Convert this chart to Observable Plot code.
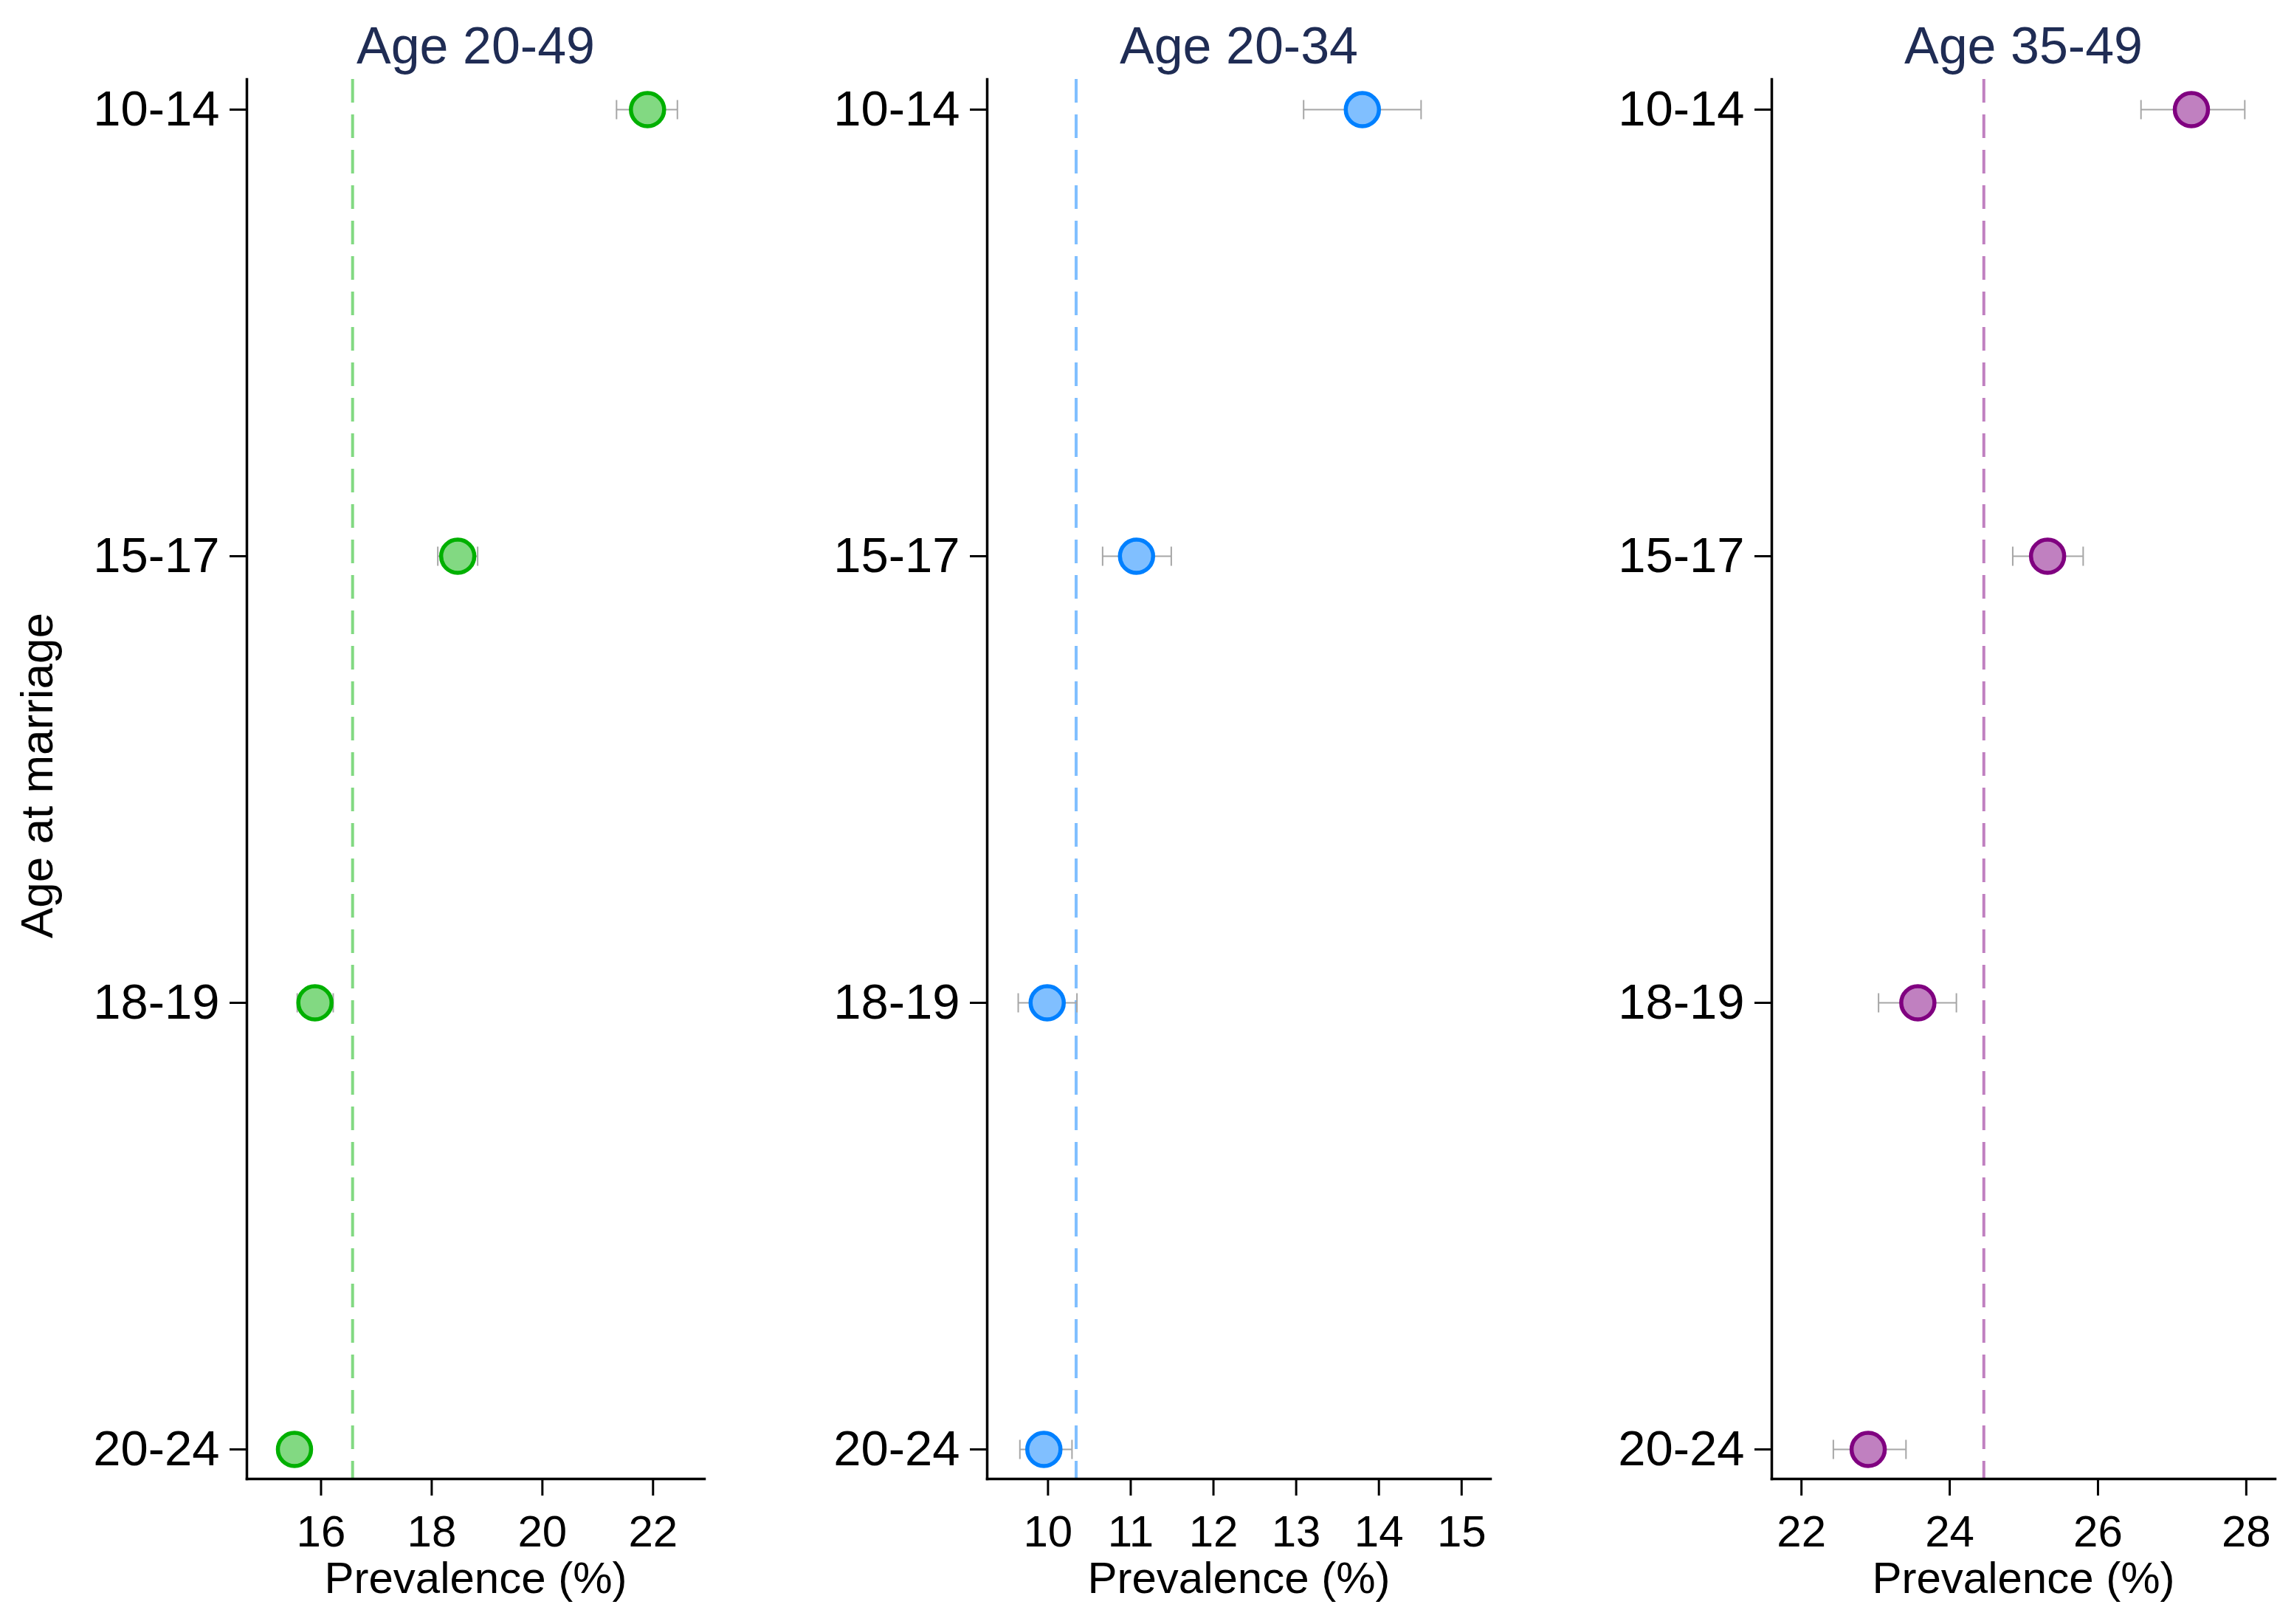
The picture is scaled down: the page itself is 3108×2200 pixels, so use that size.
<!DOCTYPE html>
<html>
<head>
<meta charset="utf-8">
<script src="https://cdn.jsdelivr.net/npm/d3@7"></script>
<script src="https://cdn.jsdelivr.net/npm/@observablehq/plot@0.6"></script>
<style>
  html, body { margin: 0; padding: 0; background: #fff; }
  #wrap { position: relative; width: 3108px; height: 2200px; background: #fff; overflow: hidden; }
  #wrap > svg { position: absolute; top: 0; }
</style>
</head>
<body>
<div id="wrap"></div>
<script>
// Categories (age at marriage)
const categories = ["10-14", "15-17", "18-19", "20-24"];

// Panel titles
const titles = ["Age 20-49", "Age 20-34", "Age 35-49"];

// Age 20-49
const est2049 = [21.90, 18.47, 15.89, 15.52];
const lo2049  = [21.34, 18.11, 15.57, 15.25];
const hi2049  = [22.44, 18.83, 16.22, 15.80];
const ref2049 = 16.57;
const ticks2049 = [16, 18, 20, 22];

// Age 20-34
const est2034 = [13.80, 11.07, 9.99, 9.95];
const lo2034  = [13.09, 10.66, 9.64, 9.66];
const hi2034  = [14.51, 11.49, 10.35, 10.29];
const ref2034 = 10.34;
const ticks2034 = [10, 11, 12, 13, 14, 15];

// Age 35-49
const est3549 = [27.26, 25.32, 23.57, 22.90];
const lo3549  = [26.58, 24.85, 23.04, 22.43];
const hi3549  = [27.98, 25.80, 24.09, 23.41];
const ref3549 = 24.46;
const ticks3549 = [22, 24, 26, 28];

const panels = [
  {title: titles[0], est: est2049, lo: lo2049, hi: hi2049, ref: ref2049, ticks: ticks2049,
   domain: [14.66, 22.93], left: 0, width: 1000, ml: 334, mr: 46,
   stroke: "#00b000", fill: "#82d982", refColor: "#82d982", ylabel: true},
  {title: titles[1], est: est2034, lo: lo2034, hi: hi2034, ref: ref2034, ticks: ticks2034,
   domain: [9.265, 15.35], left: 1000, width: 1050, ml: 337, mr: 31,
   stroke: "#0080ff", fill: "#80bfff", refColor: "#80bfff", ylabel: false},
  {title: titles[2], est: est3549, lo: lo3549, hi: hi3549, ref: ref3549, ticks: ticks3549,
   domain: [21.60, 28.39], left: 2050, width: 1058, ml: 350, mr: 26,
   stroke: "#800080", fill: "#c080c0", refColor: "#c080c0", ylabel: false}
];

// vertical cap symbol for error bars
const capSymbol = {
  draw(context, size) {
    const h = Math.sqrt(size / Math.PI);
    context.moveTo(0, -h);
    context.lineTo(0, h);
  }
};

const wrap = document.getElementById("wrap");
const font = "'Liberation Sans', Arial, Helvetica, sans-serif";

for (const p of panels) {
  const rows = categories.map((c, i) => ({cat: c, est: p.est[i], lo: p.lo[i], hi: p.hi[i]}));
  const marks = [
    Plot.ruleX([p.ref], {stroke: p.refColor, strokeWidth: 4, strokeDasharray: "32,16"}),
    Plot.ruleY(rows, {y: "cat", x1: "lo", x2: "hi", stroke: "#a6a6a6", strokeWidth: 2}),
    Plot.dot(rows, {x: "lo", y: "cat", symbol: capSymbol, r: 13, fill: "none", stroke: "#a6a6a6", strokeWidth: 2}),
    Plot.dot(rows, {x: "hi", y: "cat", symbol: capSymbol, r: 13, fill: "none", stroke: "#a6a6a6", strokeWidth: 2}),
    Plot.dot(rows, {x: "est", y: "cat", r: 22.5, fill: p.fill, stroke: p.stroke, strokeWidth: 5.5}),
    Plot.frame({anchor: "left", stroke: "#000", strokeWidth: 3.5}),
    Plot.frame({anchor: "bottom", stroke: "#000", strokeWidth: 3.5}),
    Plot.axisY({tickSize: 23, tickPadding: 14, fontSize: 67, strokeWidth: 3, label: null}),
    Plot.axisX({ticks: p.ticks, tickFormat: d3.format("d"), tickSize: 23, tickPadding: 26, fontSize: 60, strokeWidth: 3, label: null}),
    Plot.text([p.title], {frameAnchor: "top", dy: -22, lineAnchor: "bottom", fontSize: 70, fill: "#1f2c54"}),
    Plot.text(["Prevalence (%)"], {frameAnchor: "bottom", dy: 154, lineAnchor: "bottom", fontSize: 60, fill: "#000"})
  ];
  if (p.ylabel) {
    marks.push(Plot.text(["Age at marriage"], {frameAnchor: "left", dx: -264, dy: -5, rotate: -90, textAnchor: "middle", lineAnchor: "bottom", fontSize: 62, fill: "#000"}));
  }
  const chart = Plot.plot({
    width: p.width,
    height: 2200,
    marginLeft: p.ml,
    marginRight: p.mr,
    marginTop: 107,
    marginBottom: 197,
    style: {fontFamily: font, background: "transparent", color: "#000", overflow: "visible"},
    x: {domain: p.domain},
    y: {type: "point", domain: categories, padding: 0.065},
    marks
  });
  chart.style.left = p.left + "px";
  wrap.appendChild(chart);
}
</script>
</body>
</html>
